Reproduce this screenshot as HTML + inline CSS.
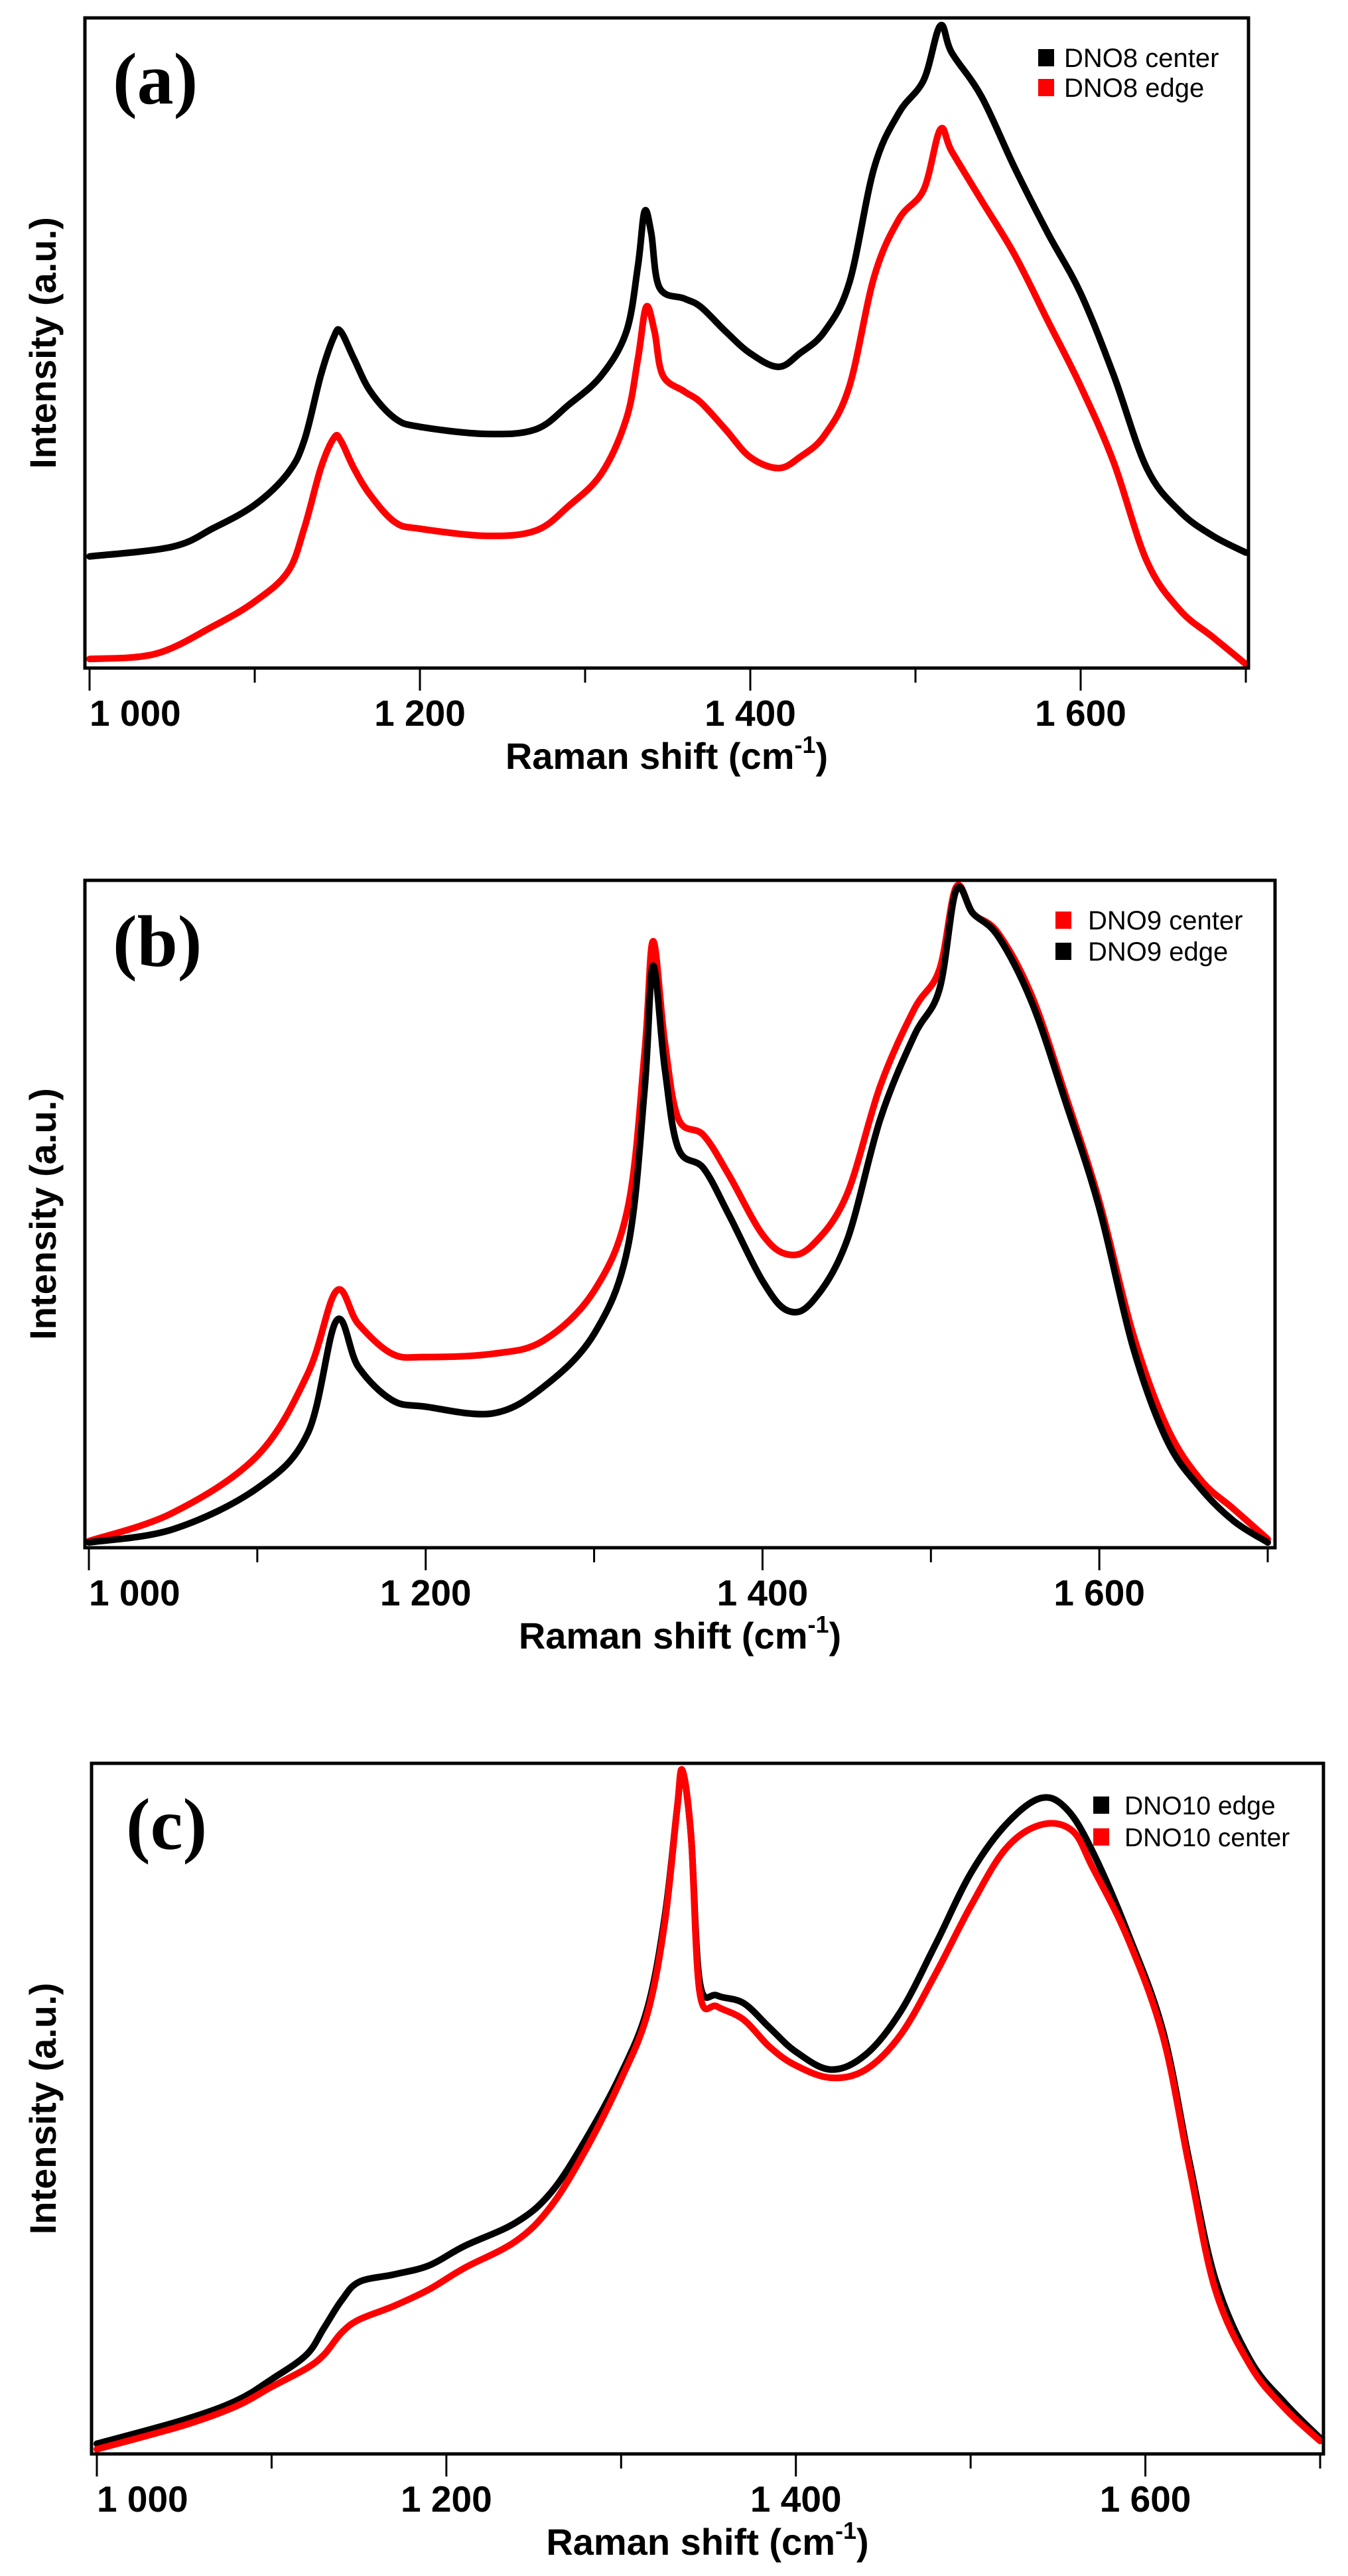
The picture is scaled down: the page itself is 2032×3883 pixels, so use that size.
<!DOCTYPE html>
<html>
<head>
<meta charset="utf-8">
<style>
  html,body{margin:0;padding:0;background:#fff;}
  svg{display:block;}
  text{font-family:"Liberation Sans",Arial,sans-serif;}
</style>
</head>
<body>
<svg id="fig" xmlns="http://www.w3.org/2000/svg" width="2032" height="3883" viewBox="0 0 2032 3883"></svg>
<script>
// ---- data (normalized intensity 0..1 within each panel) ----
const xsA = [1000,1050,1075,1100,1120,1130,1140,1148,1152,1160,1170,1185,1200,1240,1270,1290,1310,1325,1332,1336,1340,1345,1360,1370,1385,1400,1417,1430,1445,1460,1475,1490,1505,1515,1522,1540,1560,1580,1600,1620,1640,1660,1680,1700];
const dno8Center = [0.170,0.185,0.214,0.250,0.299,0.350,0.451,0.511,0.519,0.477,0.426,0.384,0.371,0.360,0.367,0.405,0.451,0.519,0.621,0.705,0.672,0.587,0.570,0.557,0.519,0.485,0.464,0.485,0.519,0.595,0.773,0.858,0.909,0.993,0.951,0.883,0.773,0.672,0.578,0.451,0.307,0.240,0.202,0.176];
const xsA2 = [1000,1040,1075,1100,1120,1130,1140,1148,1152,1160,1170,1185,1200,1240,1270,1290,1310,1325,1332,1337,1342,1347,1360,1370,1385,1400,1417,1430,1445,1460,1475,1490,1505,1515,1522,1540,1560,1580,1600,1620,1640,1660,1680,1700];
const dno8Edge = [0.011,0.019,0.062,0.100,0.146,0.214,0.307,0.354,0.350,0.307,0.265,0.223,0.213,0.202,0.210,0.248,0.299,0.384,0.477,0.557,0.519,0.451,0.426,0.409,0.367,0.324,0.307,0.324,0.358,0.434,0.604,0.693,0.739,0.832,0.798,0.722,0.638,0.536,0.434,0.316,0.163,0.087,0.045,0.003];

const xsB = [1000,1050,1100,1130,1147,1160,1180,1200,1240,1270,1300,1320,1330,1335,1342,1350,1365,1380,1400,1415,1430,1450,1470,1490,1505,1515,1525,1540,1560,1580,1600,1620,1640,1660,1680,1700];
const dno9Edge = [0.005,0.025,0.087,0.17,0.34,0.27,0.22,0.21,0.20,0.24,0.32,0.45,0.69,0.876,0.72,0.60,0.57,0.50,0.40,0.355,0.37,0.46,0.645,0.77,0.84,0.99,0.955,0.92,0.82,0.67,0.51,0.30,0.16,0.087,0.037,0.005];
const dno9Center = [0.007,0.05,0.136,0.26,0.385,0.335,0.29,0.285,0.29,0.31,0.385,0.51,0.745,0.913,0.76,0.645,0.62,0.56,0.47,0.44,0.455,0.53,0.695,0.81,0.87,0.995,0.955,0.925,0.83,0.68,0.52,0.32,0.18,0.10,0.055,0.01];

const xsC = [1000,1050,1080,1100,1120,1130,1140,1150,1170,1190,1210,1240,1260,1280,1300,1315,1325,1332,1335,1340,1345,1355,1370,1385,1400,1420,1440,1460,1480,1500,1520,1540,1555,1570,1590,1610,1625,1640,1660,1680,1700];
const dno10Edge = [0.012,0.047,0.075,0.106,0.142,0.181,0.221,0.248,0.259,0.272,0.300,0.335,0.379,0.457,0.552,0.647,0.781,0.938,0.994,0.899,0.686,0.666,0.655,0.619,0.584,0.558,0.580,0.643,0.741,0.844,0.915,0.954,0.938,0.875,0.757,0.615,0.426,0.252,0.134,0.071,0.020];
const xsC2 = [1000,1050,1080,1100,1120,1130,1140,1150,1170,1190,1210,1240,1260,1280,1300,1315,1325,1332,1335,1340,1345,1355,1370,1385,1400,1420,1440,1460,1480,1500,1520,1540,1558,1570,1590,1610,1625,1640,1660,1680,1700];
const dno10Center = [0.004,0.039,0.067,0.095,0.122,0.142,0.174,0.193,0.213,0.237,0.268,0.308,0.359,0.442,0.544,0.639,0.773,0.938,0.995,0.899,0.670,0.650,0.631,0.591,0.564,0.546,0.558,0.609,0.698,0.796,0.880,0.915,0.907,0.852,0.749,0.607,0.418,0.237,0.126,0.063,0.016];

const majorTicks = [1000,1200,1400,1600];
const minorTicks = [1100,1300,1500,1700];
const tickLabels = ["1 000","1 200","1 400","1 600"];

// ---- layout ----
const NS = "http://www.w3.org/2000/svg";
const svg = document.getElementById('fig');
function mk(tag, attrs, parent){
  const e = document.createElementNS(NS, tag);
  for (const k in attrs) e.setAttribute(k, attrs[k]);
  (parent||svg).appendChild(e);
  return e;
}
function smoothPath(P){
  let d = 'M' + P[0][0].toFixed(1) + ',' + P[0][1].toFixed(1);
  for (let i = 0; i < P.length - 1; i++) {
    const p0 = P[Math.max(0, i - 1)], p1 = P[i], p2 = P[i + 1], p3 = P[Math.min(P.length - 1, i + 2)];
    const t = 0.17;
    const c1x = p1[0] + (p2[0] - p0[0]) * t, c1y = p1[1] + (p2[1] - p0[1]) * t;
    const c2x = p2[0] - (p3[0] - p1[0]) * t, c2y = p2[1] - (p3[1] - p1[1]) * t;
    d += ' C' + c1x.toFixed(1) + ',' + c1y.toFixed(1) + ' ' + c2x.toFixed(1) + ',' + c2y.toFixed(1) + ' ' + p2[0].toFixed(1) + ',' + p2[1].toFixed(1);
  }
  return d;
}

const panels = [
  {id:'a', L:128, R:1882, T:27, B:1007, x1000:135, x1700:1878, labX:170,
   legSqX:1565, legTxtX:1604, legBase:[101,146], legFont:40,
   legend:[['DNO8 center','#000'],['DNO8 edge','#ff0000']],
   series:[[xsA, dno8Center,'#000','dno8-center-line'],[xsA2, dno8Edge,'#ff0000','dno8-edge-line']]},
  {id:'b', L:128, R:1922, T:1327, B:2333, x1000:134, x1700:1911, labX:170,
   legSqX:1591, legTxtX:1640, legBase:[1401,1448], legFont:40,
   legend:[['DNO9 center','#ff0000'],['DNO9 edge','#000']],
   series:[[xsB, dno9Center,'#ff0000','dno9-center-line'],[xsB, dno9Edge,'#000','dno9-edge-line']]},
  {id:'c', L:138, R:1995, T:2658, B:3699, x1000:146, x1700:1990, labX:190,
   legSqX:1648, legTxtX:1695, legBase:[2735,2783], legFont:39,
   legend:[['DNO10 edge','#000'],['DNO10 center','#ff0000']],
   series:[[xsC, dno10Edge,'#000','dno10-edge-line'],[xsC2, dno10Center,'#ff0000','dno10-center-line']]}
];

panels.forEach(p => {
  const g = mk('g', {});
  
  
  const xScale = v => p.x1000 + (v - 1000) * (p.x1700 - p.x1000) / 700;
  const yScale = n => (p.B - 3) - n * (p.B - p.T - 8);

  // series
  p.series.forEach(s => {
    const P = s[0].map((x, i) => [xScale(x), yScale(s[1][i])]);
    const pl = mk('path', {d: smoothPath(P), fill:'none', stroke:s[2], 'stroke-width':10, 'stroke-linejoin':'round', 'stroke-linecap':'round'}, g);
    
    
  });

  // frame
  const fr = mk('rect', {x:p.L, y:p.T, width:p.R - p.L, height:p.B - p.T, fill:'none', stroke:'#000', 'stroke-width':5}, g);
  
  

  // ticks
  majorTicks.forEach((t, i) => {
    const x = xScale(t);
    const tk = mk('line', {x1:x, x2:x, y1:p.B, y2:p.B + 34, stroke:'#000', 'stroke-width':3}, g);
    
    
    const tl = mk('text', {x: x, y: p.B + 87, 'font-size':55, 'font-weight':'bold', 'text-anchor': i === 0 ? 'start' : 'middle'}, g);
    tl.textContent = tickLabels[i];
    
    
  });
  minorTicks.forEach(t => {
    const x = xScale(t);
    const tk = mk('line', {x1:x, x2:x, y1:p.B, y2:p.B + 22, stroke:'#000', 'stroke-width':3}, g);
    
    
  });

  // x title
  const xt = mk('text', {x:(p.L + p.R) / 2, y:p.B + 152, 'font-size':56, 'font-weight':'bold', 'text-anchor':'middle'}, g);
  
  
  const t1 = mk('tspan', {}, xt); t1.textContent = 'Raman shift (cm';
  const t2 = mk('tspan', {'font-size':36, dy:-24}, xt); t2.textContent = '-1';
  const t3 = mk('tspan', {dy:24}, xt); t3.textContent = ')';

  // y title
  const cy = (p.T + p.B) / 2;
  const yt = mk('text', {x:0, y:0, 'font-size':56, 'font-weight':'bold', 'text-anchor':'middle', transform:'translate(84,' + cy + ') rotate(-90)'}, g);
  yt.textContent = 'Intensity (a.u.)';
  
  

  // panel label
  const pl = mk('text', {x:p.labX, y:p.T + 129, 'font-size':110, 'font-weight':'bold'}, g);
  pl.setAttribute('style', 'font-family:"Liberation Serif","Times New Roman",serif');
  pl.textContent = '(' + p.id + ')';
  
  

  // legend
  p.legend.forEach((L, i) => {
    const base = p.legBase[i];
    const sq = mk('rect', {x:p.legSqX, y:base - 27, width:24, height:26, fill:L[1]}, g);
    
    
    const lt = mk('text', {x:p.legTxtX, y:base, 'font-size':p.legFont}, g);
    lt.textContent = L[0];
    
    
  });
});
</script>
</body>
</html>
